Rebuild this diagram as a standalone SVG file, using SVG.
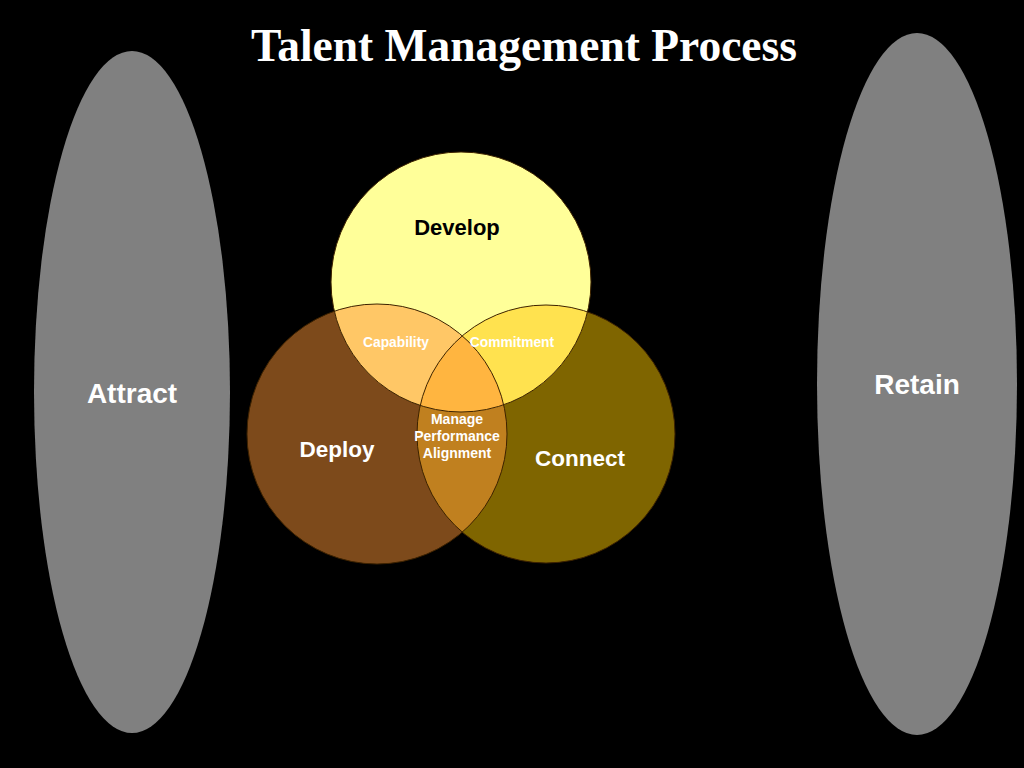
<svg xmlns="http://www.w3.org/2000/svg" width="1024" height="768" viewBox="0 0 1024 768">
<style>
.sans{font-family:"Liberation Sans",Arial,sans-serif;font-weight:bold;text-anchor:middle}
.w{fill:#ffffff}
.ring{fill:none;stroke:#3d2200;stroke-width:1}
</style>
<defs>
<clipPath id="cDev"><circle cx="461" cy="282" r="130"/></clipPath>
<clipPath id="cDep"><circle cx="377" cy="434" r="130"/></clipPath>
<clipPath id="cCon"><circle cx="546" cy="434" r="129"/></clipPath>
</defs>
<rect x="0" y="0" width="1024" height="768" fill="#000000"/>
<text x="524" y="61" font-family="'Liberation Serif','Times New Roman',serif" font-weight="bold" font-size="45.5" fill="#ffffff" text-anchor="middle">Talent Management Process</text>
<g id="attract">
<ellipse cx="132" cy="392" rx="98" ry="341" fill="#808080"/>
<text class="sans w" x="132" y="403" font-size="28">Attract</text>
</g>
<g id="retain">
<ellipse cx="917" cy="384" rx="100" ry="351" fill="#808080"/>
<text class="sans w" x="917" y="394" font-size="28">Retain</text>
</g>
<g id="venn">
<g id="deploy"><circle cx="377" cy="434" r="130" fill="#7d4a1b"/></g>
<g id="connect"><circle cx="546" cy="434" r="129" fill="#7f6500"/></g>
<g id="develop"><circle cx="461" cy="282" r="130" fill="#ffff99"/></g>
<g id="deploy-connect" clip-path="url(#cDep)"><circle cx="546" cy="434" r="129" fill="#c0801f"/></g>
<g id="capability-area" clip-path="url(#cDev)"><circle cx="377" cy="434" r="130" fill="#ffc766"/></g>
<g id="commitment-area" clip-path="url(#cDev)"><circle cx="546" cy="434" r="129" fill="#ffe24f"/></g>
<g id="manage-area" clip-path="url(#cDev)"><g clip-path="url(#cDep)"><circle cx="546" cy="434" r="129" fill="#ffb540"/></g></g>
<g id="outlines">
<circle class="ring" cx="377" cy="434" r="130"/>
<circle class="ring" cx="546" cy="434" r="129"/>
<circle class="ring" cx="461" cy="282" r="130" stroke="#6b6a3a"/>
</g>
<text class="sans" x="457" y="235" font-size="22" fill="#000000">Develop</text>
<text class="sans w" x="337" y="457" font-size="22.5">Deploy</text>
<text class="sans w" x="580" y="466" font-size="22.5">Connect</text>
<text class="sans w" x="396" y="347" font-size="13.8">Capability</text>
<text class="sans w" x="512" y="347" font-size="13.8">Commitment</text>
<text class="sans w" x="457" y="424" font-size="14">Manage</text>
<text class="sans w" x="457" y="441" font-size="14">Performance</text>
<text class="sans w" x="457" y="458" font-size="14">Alignment</text>
</g>
</svg>
